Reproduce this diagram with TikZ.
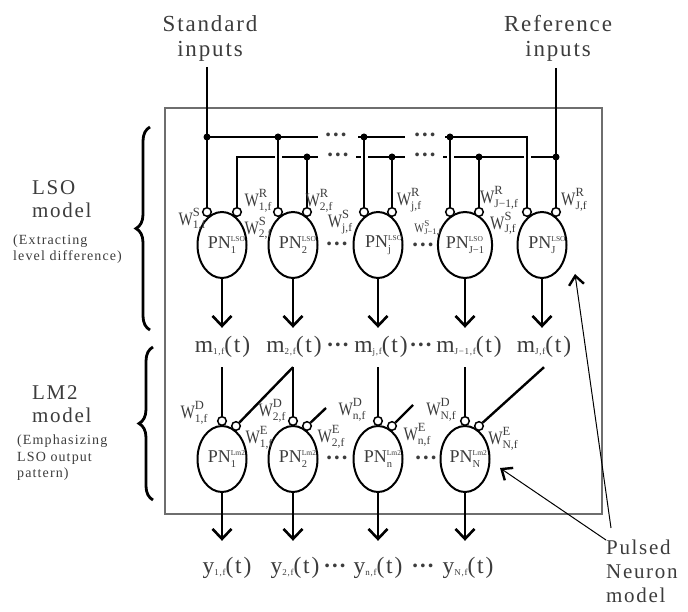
\documentclass[tikz,border=0pt]{standalone}
\usepackage{fontspec}
\setmainfont{Liberation Serif}
\newfontfamily\widefont[LetterSpace=8]{Liberation Serif}
\usepackage{tikz}
\usetikzlibrary{arrows.meta,positioning,calc,shapes.geometric,decorations.pathreplacing}
\definecolor{cInk}{HTML}{3C3C3C}
\definecolor{cFrame}{HTML}{6E6E6E}
% weight, PN and signal labels
\newcommand\wgt[2]{\scalebox{0.8}[1]{\fontsize{19}{19}\selectfont W}\rlap{\raisebox{9pt}{\fontsize{12.5}{12.5}\selectfont #1}}\raisebox{-3.5pt}{\fontsize{11.5}{11.5}\selectfont #2}}
\newcommand\wgtsm[2]{\scalebox{0.8}[1]{\fontsize{13}{13}\selectfont W}\rlap{\raisebox{6pt}{\fontsize{9}{9}\selectfont #1}}\raisebox{-2.5pt}{\fontsize{8.5}{8.5}\selectfont #2}}
\newcommand\pnl[2]{PN\rlap{\raisebox{7.5pt}{\fontsize{7.5}{7.5}\selectfont #1}}\raisebox{-4.5pt}{\fontsize{10.5}{10.5}\selectfont #2}}
\newcommand\sig[2]{#1\raisebox{-2pt}{\fontsize{9}{9}\selectfont #2}(t)}
\tikzset{
  wire/.style={line width=2.4pt},
  outarr/.style={line width=2.4pt,-{Straight Barb[length=10pt,width=19pt,line width=2.6pt]}},
  ptr/.style={line width=1pt,-{Straight Barb[length=9pt,width=15pt,line width=2.4pt]}},
  neuron/.style={draw,ellipse,line width=2pt,minimum width=49pt,minimum height=66pt,inner sep=0pt,text=cInk,font=\fontsize{18}{18}\selectfont},
  syn/.style={draw,circle,line width=1.5pt,fill=white,minimum size=8.6pt,inner sep=0pt},
  jn/.style={circle,fill=black,minimum size=7pt,inner sep=0pt},
  busgap/.style={draw=white,line width=4.5pt},
  sgl/.style={text=cInk,font=\widefont\fontsize{23.5}{24}\selectfont,anchor=base,text height=15pt,text depth=5pt,inner xsep=0pt,inner ysep=9.5pt},
  ylbl/.style={sgl,inner ysep=17pt},
  wl/.style={text=cInk,inner sep=0pt},
  lbl/.style={text=cInk,align=center,font=\widefont\fontsize{23}{25}\selectfont},
  sidelbl/.style={text=cInk,align=left,inner sep=0pt,font=\widefont\fontsize{21}{23}\selectfont},
  sidenote/.style={text=cInk,align=left,inner sep=0pt,font=\widefont\fontsize{14}{16.5}\selectfont},
  brc/.style={decorate,decoration={brace,amplitude=14pt},line width=2.8pt},
  dts/.style={text=cInk,font=\bfseries\fontsize{23}{23}\selectfont,inner sep=0pt},
}
\begin{document}
\begin{tikzpicture}[x=1pt,y=-1pt]
  \useasboundingbox (0,0) rectangle (688,612);
  % frame round both models
  \draw[cFrame,line width=1.3pt] (165,108) rectangle (602,514);
  % input labels
  \node[lbl] (stdlbl) at (210,38) {Standard\\inputs};
  \node[lbl] (reflbl) at (558,38) {Reference\\inputs};
  \coordinate (stdin) at (207,67);
  \coordinate (refin) at (556,68);
  \coordinate (bustop) at (0,137);
  \coordinate (busref) at (0,157);
  % side labels and braces
  \node[sidelbl,anchor=west] (lsot) at (32,199) {LSO\\model};
  \node[sidenote,anchor=west] (lson) at (13,249) {(Extracting\\level difference)};
  \node[sidelbl,anchor=west] (lm2t) at (32,404) {LM2\\model};
  \node[sidenote,anchor=west] (lm2n) at (17,458) {(Emphasizing\\LSO output\\pattern)};
  \draw[brc] (150,330) -- (150,127);
  \draw[brc] (153,500) -- (153,347);
  % LSO neurons
  \node[neuron] (lso1) at (222,245) {\pnl{LSO}{1}};
  \node[neuron] (lso2) at (293,245) {\pnl{LSO}{2}};
  \node[neuron] (lsoj) at (378,245) {\pnl{LSO}{j}};
  \node[neuron] (lsoJm) at (465,245) {\pnl{LSO}{J−1}};
  \node[neuron] (lsoJ) at (542,245) {\pnl{LSO}{J}};
  \node[syn] (s1) at (207,212) {};  \node[syn] (r1) at (237,212) {};
  \node[syn] (s2) at (278,212) {};  \node[syn] (r2) at (307,212) {};
  \node[syn] (sj) at (364,212) {};  \node[syn] (rj) at (392,212) {};
  \node[syn] (sJm) at (450,212) {}; \node[syn] (rJm) at (479,212) {};
  \node[syn] (sJ) at (527,212) {};  \node[syn] (rJ) at (556,212) {};
  \node[dts] at (337,247) {···};
  \node[dts] at (423,248) {···};
  % reference bus (drawn first, cut where the standard lines cross)
  \draw[wire] (r1.north) |- (318,157);
  \draw[wire] (356,157) -- (405,157);
  \draw[wire] (443,157) -- (rJ |- busref);
  \foreach \c in {s2,sj,sJm,sJ}
    \draw[busgap] ($(\c |- busref)+(-3.5,0)$) -- ++(7,0);
  % standard bus
  \draw[wire] (stdin) -- (s1.north);
  \draw[wire] (refin) -- (rJ.north);
  \draw[wire] (s1 |- bustop) -- (318,137);
  \draw[wire] (358,137) -- (405,137);
  \draw[wire] (445,137) -| (sJ.north);
  \foreach \c in {s2,sj,sJm}
    \draw[wire] (\c |- bustop) -- (\c.north);
  \foreach \c in {r2,rj,rJm}
    \draw[wire] (\c |- busref) -- (\c.north);
  \foreach \c in {s1,s2,sj,sJm}
    \node[jn] at (\c |- bustop) {};
  \foreach \c in {r2,rj,rJm,rJ}
    \node[jn] at (\c |- busref) {};
  \node[dts] at (336,138) {···};
  \node[dts] at (425,138) {···};
  \node[dts] at (338,158) {···};
  \node[dts] at (425,158) {···};
  % LSO weights
  \node[wl] (ws1) at (192,219) {\wgt{S}{1,f}};
  \node[wl] (wr1) at (258,201) {\wgt{R}{1,f}};
  \node[wl] (ws2) at (258,228) {\wgt{S}{2,f}};
  \node[wl] (wr2) at (319,201) {\wgt{R}{2,f}};
  \node[wl] (wsj) at (340,222) {\wgt{S}{j,f}};
  \node[wl] (wrj) at (409,200) {\wgt{R}{j,f}};
  \node[wl] (wsJm) at (428,228) {\wgtsm{S}{J−1,f}};
  \node[wl] (wrJm) at (499,198) {\wgt{R}{J−1,f}};
  \node[wl] (wsJ) at (503,223) {\wgt{S}{J,f}};
  \node[wl] (wrJ) at (574,200) {\wgt{R}{J,f}};
  % LSO outputs
  \node[sgl] (m1) at (222.5,352.5) {\sig{m}{1,f}};
  \node[sgl] (m2) at (294,352.5) {\sig{m}{2,f}};
  \node[sgl] (mj) at (381,352.5) {\sig{m}{j,f}};
  \node[sgl] (mJm) at (469,352.5) {\sig{m}{J−1,f}};
  \node[sgl] (mJ) at (544,352.5) {\sig{m}{J,f}};
  \node[dts] at (338,348) {···};
  \node[dts] at (421,348) {···};
  \foreach \n/\m in {lso1/m1,lso2/m2,lsoj/mj,lsoJm/mJm,lsoJ/mJ}
    \draw[outarr] (\n.south) -- (\n.south |- \m.north);
  % LM2 neurons
  \node[neuron] (lm1) at (222,459) {\pnl{Lm2}{1}};
  \node[neuron] (lm2) at (293,459) {\pnl{Lm2}{2}};
  \node[neuron] (lmn) at (378,459) {\pnl{Lm2}{n}};
  \node[neuron] (lmN) at (465,459) {\pnl{Lm2}{N}};
  \node[syn] (d1) at (222,421) {};  \node[syn] (e1) at (236,426) {};
  \node[syn] (d2) at (293,421) {};  \node[syn] (e2) at (307,426) {};
  \node[syn] (dn) at (378,421) {};  \node[syn] (en) at (392,426) {};
  \node[syn] (dN) at (465,421) {};  \node[syn] (eN) at (479,426) {};
  \node[dts] at (337,461) {···};
  \node[dts] at (426,461) {···};
  \coordinate (e2s) at (326,408);
  \coordinate (ens) at (413,405);
  \draw[wire] (d1 |- m1.south) -- (d1.north);
  \draw[wire] (d2 |- m2.south) -- (d2.north);
  \draw[wire] (d2 |- m2.south) -- (e1);
  \draw[wire] (dn |- mj.south) -- (dn.north);
  \draw[wire] (dN |- mJm.south) -- (dN.north);
  \draw[wire] (mJ.south) -- (eN);
  \draw[wire] (e2) -- (e2s);
  \draw[wire] (en) -- (ens);
  % LM2 weights
  \node[wl] (wd1) at (194,413) {\wgt{D}{1,f}};
  \node[wl] (we1) at (259,438) {\wgt{E}{1,f}};
  \node[wl] (wd2) at (272,411) {\wgt{D}{2,f}};
  \node[wl] (we2) at (331,437) {\wgt{E}{2,f}};
  \node[wl] (wdn) at (352,410) {\wgt{D}{n,f}};
  \node[wl] (wen) at (417,435) {\wgt{E}{n,f}};
  \node[wl] (wdN) at (441,410) {\wgt{D}{N,f}};
  \node[wl] (weN) at (503,439) {\wgt{E}{N,f}};
  % LM2 outputs
  \node[ylbl] (y1) at (227,573) {\sig{y}{1,f}};
  \node[ylbl] (y2) at (295,573) {\sig{y}{2,f}};
  \node[ylbl] (yn) at (378,573) {\sig{y}{n,f}};
  \node[ylbl] (yN) at (468,573) {\sig{y}{N,f}};
  \node[dts] at (335,569) {···};
  \node[dts] at (423,569) {···};
  \foreach \n/\y in {lm1/y1,lm2/y2,lmn/yn,lmN/yN}
    \draw[outarr] (\n.south) -- (\n.south |- \y.north);
  % pulsed neuron pointer
  \node[sidelbl,anchor=north west,font=\widefont\fontsize{21}{24}\selectfont] (pnm) at (606,540) {Pulsed\\Neuron\\model};
  \coordinate (ptA) at (611,528);
  \coordinate (tip1) at (575,274);
  \coordinate (tip2) at (500,468);
  \draw[ptr] (ptA) -- (tip1);
  \draw[ptr] (pnm.north west) -- (tip2);
\end{tikzpicture}
\end{document}
